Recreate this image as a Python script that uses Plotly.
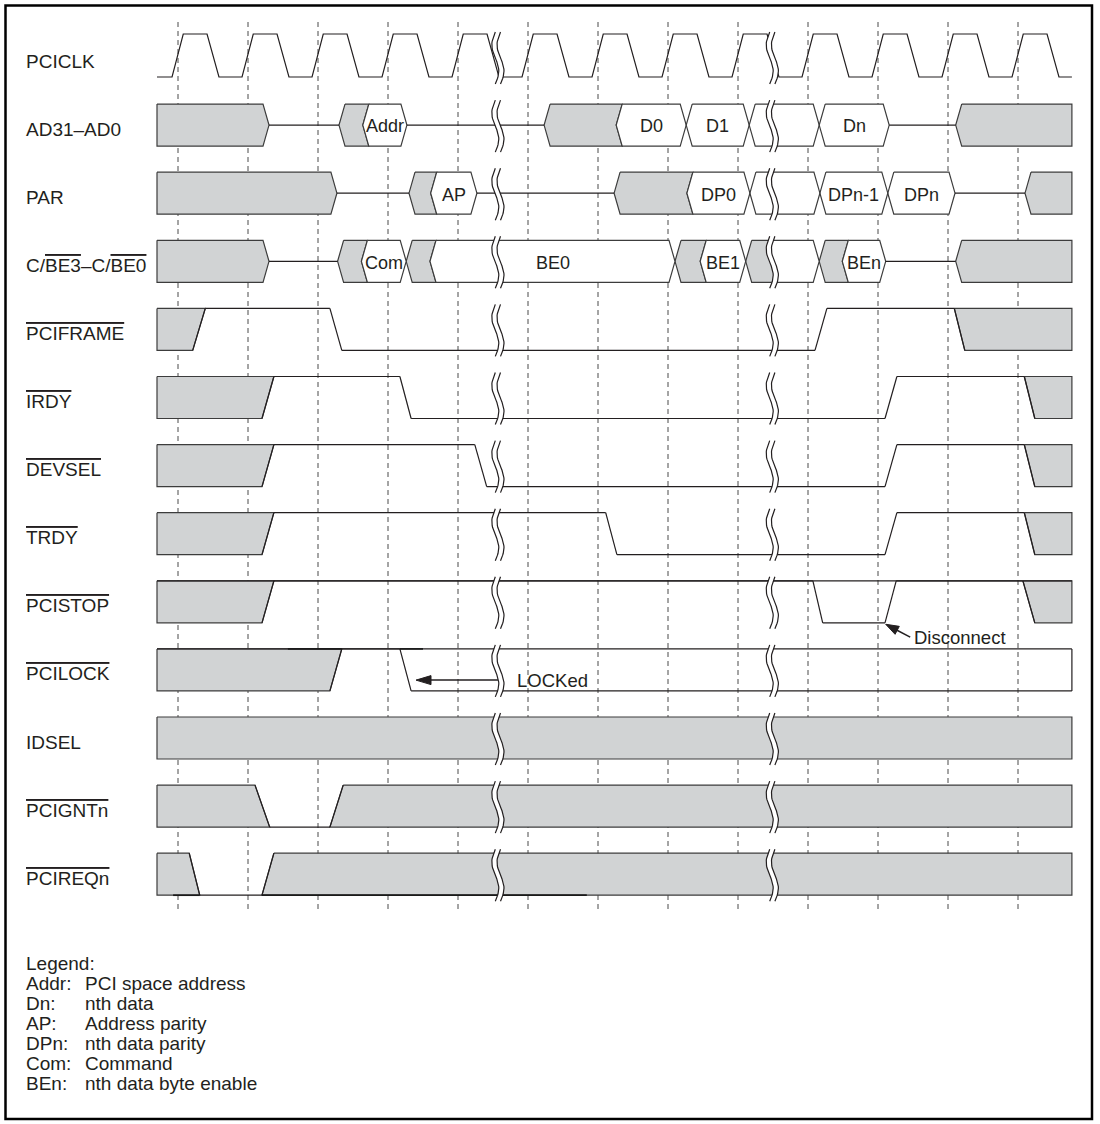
import math
import plotly.graph_objects as go

# ---------------- data (time in clock periods, rows top->bottom) ----------------
SIGNALS = ["PCICLK", "AD31–AD0", "PAR", "C/BE3–C/BE0", "PCIFRAME", "IRDY", "DEVSEL",
           "TRDY", "PCISTOP", "PCILOCK", "IDSEL", "PCIGNTn", "PCIREQn"]
ACTIVE_LOW = ["PCIFRAME", "IRDY", "DEVSEL", "TRDY", "PCISTOP", "PCILOCK", "PCIGNTn", "PCIREQn"]

CLOCK_EDGES = [0, 1, 2, 3, 4, 5, 6, 7, 8, 9, 10, 11, 12]
BREAKS = [4.57, 8.49]
T_START, T_END = -0.30, 12.77

# bus signals: segment boundaries, states (X = unknown/grey, Z = float, D = valid data)
AD_TIMES = [-0.30, 1.30, 2.30, 2.64, 3.27, 5.23, 6.26, 7.26, 8.16, 9.16, 10.16, 11.11, 12.77]
AD_STATES = ["X", "Z", "X", "D", "Z", "X", "D", "D", "D", "D", "Z", "X"]
AD_TEXT = ["", "", "", "Addr", "", "", "D0", "D1", "", "Dn", "", ""]

PAR_TIMES = [-0.30, 2.27, 3.30, 3.61, 4.27, 6.23, 7.27, 8.17, 9.17, 10.14, 11.10, 12.10, 12.77]
PAR_STATES = ["X", "Z", "X", "D", "Z", "X", "D", "D", "D", "D", "Z", "X"]
PAR_TEXT = ["", "", "", "AP", "", "", "DP0", "", "DPn-1", "DPn", "", ""]

CBE_TIMES = [-0.30, 1.30, 2.28, 2.62, 3.26, 3.60, 7.10, 7.46, 8.11, 8.49, 9.16, 9.49, 10.11, 11.11, 12.77]
CBE_STATES = ["X", "Z", "X", "D", "X", "D", "X", "D", "X", "D", "X", "D", "Z", "X"]
CBE_TEXT = ["", "", "", "Com", "", "BE0", "", "BE1", "", "", "", "BEn", "", ""]

# level signals: states (H / L / X) and transition (start, end) times
FRAME_STATES = ["X", "H", "L", "H", "X"]
FRAME_EDGES = [(0.21, 0.39), (2.17, 2.34), (9.10, 9.27), (11.09, 11.24)]
IRDY_STATES = ["X", "H", "L", "H", "X"]
IRDY_EDGES = [(1.20, 1.37), (3.17, 3.33), (10.10, 10.27), (12.09, 12.24)]
DEVSEL_STATES = ["X", "H", "L", "H", "X"]
DEVSEL_EDGES = [(1.20, 1.37), (4.24, 4.41), (10.10, 10.27), (12.09, 12.24)]
TRDY_STATES = ["X", "H", "L", "H", "X"]
TRDY_EDGES = [(1.20, 1.37), (6.11, 6.27), (10.10, 10.27), (12.09, 12.24)]
STOP_STATES = ["X", "H", "L", "H", "X"]
STOP_EDGES = [(1.20, 1.37), (9.07, 9.21), (10.10, 10.26), (12.07, 12.24)]
LOCK_STATES = ["X", "H", "L"]
LOCK_EDGES = [(2.17, 2.34), (3.17, 3.33)]
IDSEL_STATES = ["X"]
IDSEL_EDGES = []
GNT_STATES = ["X", "L", "X"]
GNT_EDGES = [(1.10, 1.31), (2.17, 2.36)]
REQ_STATES = ["X", "L", "X"]
REQ_EDGES = [(0.16, 0.31), (1.20, 1.37)]

# heavier (overdrawn) level segments seen in the original: (row, level, t0, t1)
HEAVY_ROWS = [9, 9, 12, 12]
HEAVY_LEVEL = ["H", "H", "L", "L"]
HEAVY_T0 = [1.57, 3.17, -0.07, 1.20]
HEAVY_T1 = [2.34, 3.50, 0.31, 5.84]

LOCKED_TIP, LOCKED_TAIL, LOCKED_TEXT = (3.40, 9.15), (4.57, 9.15), (4.81, 9.15)
DISC_TIP, DISC_TAIL, DISC_TEXT = (10.11, 8.33), (10.46, 8.52), (10.49, 8.52)

LEGEND_TITLE = "Legend:"
LEGEND_KEYS = ["Addr:", "Dn:", "AP:", "DPn:", "Com:", "BEn:"]
LEGEND_DESC = ["PCI space address", "nth data", "Address parity", "nth data parity",
               "Command", "nth data byte enable"]

# ---------------- styling / geometry ----------------
W, H = 1100, 1124
XS, YS = 70.0, 68.1          # px per clock period, px per row
X0PX, Y0PX = 178.0, 57.0     # px of t=0, px of row 0 centre
HALF = 21 / YS
CHEV = 6 / XS
GRAY = "#d1d3d4"
INK = "#231f20"
OUT = "#3c3c3c"
FONT = "Liberation Sans, Arial, Helvetica, sans-serif"

fig = go.Figure()


def trace(xs, ys, color=OUT, width=1.2, dash=None, fill=None, fillcolor=None):
    fig.add_trace(go.Scatter(x=xs, y=ys, mode="lines", hoverinfo="skip", showlegend=False,
                             line=dict(color=color, width=width, dash=dash),
                             fill=fill, fillcolor=fillcolor))


def flat(polys):
    xs, ys = [], []
    for p in polys:
        for (a, b) in p:
            xs.append(a)
            ys.append(b)
        xs.append(None)
        ys.append(None)
    return xs, ys


def break_extent(k):
    return k - HALF - 4 / YS, k + HALF + 6 / YS


def break_curve(x0, k, off_px, y_from, y_to, n=28):
    yt, yb = break_extent(k)
    pts = []
    for i in range(n + 1):
        y = y_from + (y_to - y_from) * i / n
        s = (y - yt) / (yb - yt)
        pts.append((x0 + (off_px - 3.5 * math.sin(2 * math.pi * s)) / XS, y))
    return pts


def is_break(t):
    return any(abs(t - b) < 1e-6 for b in BREAKS)


gray_polys, white_polys, lines, texts = [], [], [], []


def bus(k, times, states, labels):
    top, bot, mid = k - HALF, k + HALF, k
    n = len(states)
    for i, s in enumerate(states):
        ta, tb = times[i], times[i + 1]
        if s == "Z":
            lines.append([(ta, mid), (tb, mid)])
            continue
        if i == 0:
            left = [(ta, top), (ta, bot)]
        elif is_break(ta):
            left = break_curve(ta, k, 0, top, bot)
        else:
            left = [(ta + CHEV, top), (ta, mid), (ta + CHEV, bot)]
        if i == n - 1:
            right = [(tb, top), (tb, bot)]
        elif is_break(tb):
            right = break_curve(tb, k, 0, top, bot)
        elif s == "X" and states[i + 1] == "D":
            right = [(tb + CHEV, top), (tb, mid), (tb + CHEV, bot)]
        else:
            right = [(tb - CHEV, top), (tb, mid), (tb - CHEV, bot)]
        poly = [left[0]] + right + left[::-1]
        (gray_polys if s == "X" else white_polys).append(poly)
        if labels[i]:
            texts.append(((ta + tb) / 2, k, labels[i]))


def level(k, states, edges, top_line=False, right_edge=False):
    top, bot = k - HALF, k + HALF
    lv = {"H": top, "L": bot}

    def yof(st, other):
        if st == "X":
            return bot if lv[other] == top else top
        return lv[st]

    epts = []
    for j, (a, b) in enumerate(edges):
        s0, s1 = states[j], states[j + 1]
        e = ((a, yof(s0, s1)), (b, yof(s1, s0)))
        epts.append(e)
        lines.append(list(e))
    for i, s in enumerate(states):
        ta = T_START if i == 0 else edges[i - 1][1]
        tb = T_END if i == len(states) - 1 else edges[i][0]
        if s in "HL":
            lines.append([(ta, lv[s]), (tb, lv[s])])
        else:
            if i == 0:
                lt, lb = (T_START, top), (T_START, bot)
            else:
                p0, p1 = epts[i - 1]
                lt, lb = (p0, p1) if p0[1] == top else (p1, p0)
            if i == len(states) - 1:
                rt, rb = (T_END, top), (T_END, bot)
            else:
                p0, p1 = epts[i]
                rt, rb = (p0, p1) if p0[1] == top else (p1, p0)
            gray_polys.append([lt, rt, rb, lb, lt])
    if top_line:
        lines.append([(T_START, top), (T_END, top)])
    if right_edge:
        lines.append([(T_END, top), (T_END, bot)])


# dashed clock reference lines
yd0, yd1 = (22 - Y0PX) / YS, (912 - Y0PX) / YS
dx, dy = [], []
for c in CLOCK_EDGES:
    dx += [c, c, None]
    dy += [yd0, yd1, None]
trace(dx, dy, color="#4a4a4a", width=1, dash="5px,4px")

# clock
ck_top, ck_bot = 0 - HALF - 2 / YS, 0 + HALF - 1 / YS
cx, cy = [T_START], [ck_bot]
for r in CLOCK_EDGES:
    cx += [r - 0.085, r + 0.075, r + 0.415, r + 0.585]
    cy += [ck_bot, ck_top, ck_top, ck_bot]
cx.append(T_END)
cy.append(ck_bot)

bus(1, AD_TIMES, AD_STATES, AD_TEXT)
bus(2, PAR_TIMES, PAR_STATES, PAR_TEXT)
bus(3, CBE_TIMES, CBE_STATES, CBE_TEXT)
level(4, FRAME_STATES, FRAME_EDGES)
level(5, IRDY_STATES, IRDY_EDGES)
level(6, DEVSEL_STATES, DEVSEL_EDGES)
level(7, TRDY_STATES, TRDY_EDGES)
level(8, STOP_STATES, STOP_EDGES, top_line=True)
level(9, LOCK_STATES, LOCK_EDGES, top_line=True, right_edge=True)
level(10, IDSEL_STATES, IDSEL_EDGES)
level(11, GNT_STATES, GNT_EDGES)
level(12, REQ_STATES, REQ_EDGES)

gx, gy = flat(gray_polys)
trace(gx, gy, color=OUT, width=1.2, fill="toself", fillcolor=GRAY)
wx, wy = flat(white_polys)
trace(wx, wy, color=OUT, width=1.2, fill="toself", fillcolor="white")
lx, ly = flat(lines)
trace(lx, ly, color=INK, width=1.2)
trace(cx, cy, color=INK, width=1.2)

hx, hy = [], []
for r, lvl, t0, t1 in zip(HEAVY_ROWS, HEAVY_LEVEL, HEAVY_T0, HEAVY_T1):
    yy = r - HALF if lvl == "H" else r + HALF
    hx += [t0, t1, None]
    hy += [yy, yy, None]
trace(hx, hy, color="#1a1a1a", width=1.7)


# arrows
def arrow(tip, tail, L=13, hw=4.5):
    ddx = (tip[0] - tail[0]) * XS
    ddy = (tip[1] - tail[1]) * YS
    d = math.hypot(ddx, ddy)
    ux, uy = ddx / d, ddy / d
    trace([tail[0], tip[0] - ux * L * 0.7 / XS], [tail[1], tip[1] - uy * L * 0.7 / YS],
          color=INK, width=1.5)
    bx, by = -ux * L, -uy * L
    px, py = -uy * hw, ux * hw
    pts = [(0, 0), (bx + px, by + py), (bx - px, by - py), (0, 0)]
    trace([tip[0] + p[0] / XS for p in pts], [tip[1] + p[1] / YS for p in pts],
          color=INK, width=1, fill="toself", fillcolor=INK)


arrow(LOCKED_TIP, LOCKED_TAIL, L=15, hw=4.5)
arrow(DISC_TIP, DISC_TAIL, L=13, hw=4.5)

# breaks
bfill, bline = [], []
for k in range(len(SIGNALS)):
    yt, yb = break_extent(k)
    for b in BREAKS:
        c1 = break_curve(b, k, -2.6, yt, yb)
        c2 = break_curve(b, k, 2.6, yt, yb)
        bfill.append(c1 + c2[::-1] + [c1[0]])
        bline.append(c1)
        bline.append(c2)
fx, fy = flat(bfill)
trace(fx, fy, color="rgba(0,0,0,0)", width=0, fill="toself", fillcolor="white")
bx_, by_ = flat(bline)
trace(bx_, by_, color=INK, width=1.2)

# ---------------- text ----------------
ann = []


def over(s):
    return '<span style="text-decoration:overline">' + s + "</span>"


LABEL_X = (24 - X0PX) / XS
for k, name in enumerate(SIGNALS):
    if name in ACTIVE_LOW:
        txt = over(name)
    elif name.startswith("C/BE"):
        txt = "C/" + over("BE3") + "–C/" + over("BE0")
    else:
        txt = name
    ann.append(dict(x=LABEL_X, y=k + 0.06, text=txt, xanchor="left", yanchor="middle",
                    showarrow=False, font=dict(family=FONT, size=19, color=INK)))

for (tx, ty, s) in texts:
    ann.append(dict(x=tx, y=ty + 0.02, text=s, xanchor="center", yanchor="middle",
                    showarrow=False, font=dict(family=FONT, size=18, color=INK)))

ann.append(dict(x=LOCKED_TEXT[0], y=LOCKED_TEXT[1], text="LOCKed", xanchor="left",
                yanchor="middle", showarrow=False, font=dict(family=FONT, size=18.5, color=INK)))
ann.append(dict(x=DISC_TEXT[0], y=DISC_TEXT[1], text="Disconnect", xanchor="left",
                yanchor="middle", showarrow=False, font=dict(family=FONT, size=18.5, color=INK)))

LEG_Y0 = (963 - Y0PX) / YS
LEG_DY = 20 / YS
KEY_X = (24 - X0PX) / XS
DESC_X = (83 - X0PX) / XS
ann.append(dict(x=KEY_X, y=LEG_Y0, text=LEGEND_TITLE, xanchor="left", yanchor="middle",
                showarrow=False, font=dict(family=FONT, size=19, color=INK)))
for i, (kk, dd) in enumerate(zip(LEGEND_KEYS, LEGEND_DESC)):
    y = LEG_Y0 + LEG_DY * (i + 1)
    ann.append(dict(x=KEY_X, y=y, text=kk, xanchor="left", yanchor="middle",
                    showarrow=False, font=dict(family=FONT, size=19, color=INK)))
    ann.append(dict(x=DESC_X, y=y, text=dd, xanchor="left", yanchor="middle",
                    showarrow=False, font=dict(family=FONT, size=19, color=INK)))

fig.update_layout(
    width=W, height=H, margin=dict(l=0, r=0, t=0, b=0),
    paper_bgcolor="white", plot_bgcolor="white",
    xaxis=dict(range=[(0 - X0PX) / XS, (W - X0PX) / XS], visible=False, fixedrange=True),
    yaxis=dict(range=[(H - Y0PX) / YS, (0 - Y0PX) / YS], visible=False, fixedrange=True),
    annotations=ann,
    shapes=[dict(type="rect", xref="paper", yref="paper",
                 x0=5.5 / W, x1=1092 / W, y0=1 - 1119 / H, y1=1 - 5.5 / H,
                 line=dict(color="black", width=2.5), fillcolor="rgba(0,0,0,0)", layer="above")],
)

fig.write_html(
    "out.html",
    config={"displayModeBar": False},
    post_script="document.body.style.margin='0';document.body.style.overflow='hidden';"
                "document.documentElement.style.overflow='hidden';",
)
